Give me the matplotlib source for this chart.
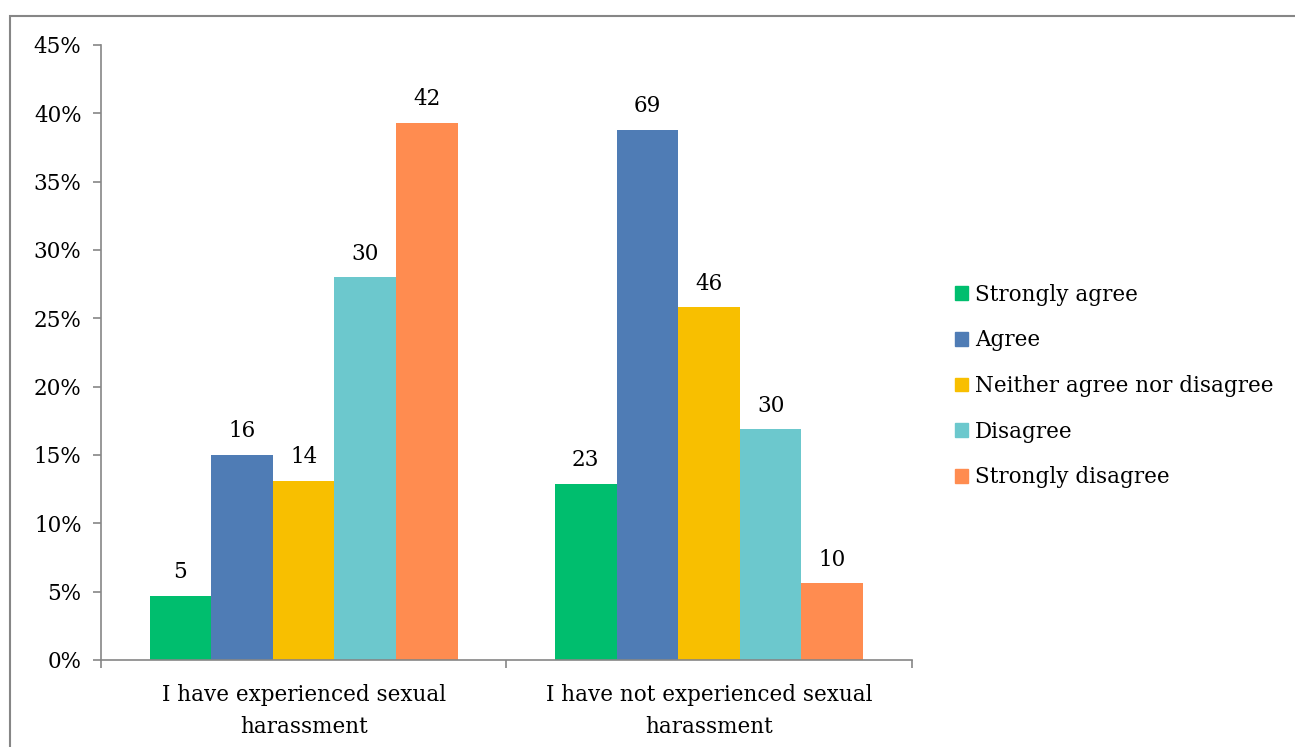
import matplotlib.pyplot as plt
from matplotlib.patches import Patch, Rectangle
import numpy as np

categories = ["I have experienced sexual\nharassment",
              "I have not experienced sexual\nharassment"]
responses = ["Strongly agree", "Agree", "Neither agree nor disagree",
             "Disagree", "Strongly disagree"]
# percent of respondents in each group (bar heights)
pct = {
    "Strongly agree": [4.7, 12.9],
    "Agree": [15.0, 38.8],
    "Neither agree nor disagree": [13.1, 25.8],
    "Disagree": [28.0, 16.9],
    "Strongly disagree": [39.3, 5.6],
}
# counts shown above the bars
counts = {
    "Strongly agree": [5, 23],
    "Agree": [16, 69],
    "Neither agree nor disagree": [14, 46],
    "Disagree": [30, 30],
    "Strongly disagree": [42, 10],
}
colors = ["#00BE6E", "#4F7CB5", "#F8BF00", "#6CC8CD", "#FF8C50"]

plt.rcParams['font.family'] = ['DejaVu Serif']
axis_gray = "#868686"
fs = 15.5

fig = plt.figure(figsize=(12.95, 7.47), dpi=100)
ax = fig.add_axes([0.078, 0.1165, 0.626, 0.8233])

# outer chart frame (only top and left visible in the image)
fig.patches.append(Rectangle((10 / 1295, -0.1), 1.2, 1 - 16 / 747 + 0.1,
                             transform=fig.transFigure, fill=False,
                             edgecolor=axis_gray, linewidth=1.5))

x = np.arange(len(categories))
w = 0.152
for i, (resp, c) in enumerate(zip(responses, colors)):
    pos = x + (i - 2) * w
    ax.bar(pos, pct[resp], width=w, color=c, label=resp, zorder=2)
    for p, h, n in zip(pos, pct[resp], counts[resp]):
        ax.annotate(str(n), (p, h), xytext=(0, 9), textcoords="offset points",
                    ha="center", va="bottom", fontsize=fs)

ax.set_xlim(-0.5, 1.5)
ax.set_ylim(0, 45)
ax.set_yticks(range(0, 46, 5))
ax.set_yticklabels([f"{v}%" for v in range(0, 46, 5)], fontsize=fs)
ax.set_xticks(x)
ax.set_xticklabels(categories, fontsize=fs, linespacing=1.6)
ax.set_xticks([-0.5, 0.5, 1.5], minor=True)
ax.tick_params(axis="x", which="major", length=0, pad=17)
ax.tick_params(axis="x", which="minor", length=6, color=axis_gray, width=1.2)
ax.tick_params(axis="y", length=6, color=axis_gray, width=1.2, pad=8)

for s in ["top", "right"]:
    ax.spines[s].set_visible(False)
for s in ["left", "bottom"]:
    ax.spines[s].set_color(axis_gray)
    ax.spines[s].set_linewidth(1.2)

handles = [Patch(color=c) for c in colors]
fig.legend(handles, responses, loc="center left",
           bbox_to_anchor=(0.731, 0.4833), frameon=False, fontsize=fs,
           handlelength=0.6, handleheight=0.6, handletextpad=0.3,
           labelspacing=1.1, borderaxespad=0)

fig.savefig("out.png", dpi=100)
